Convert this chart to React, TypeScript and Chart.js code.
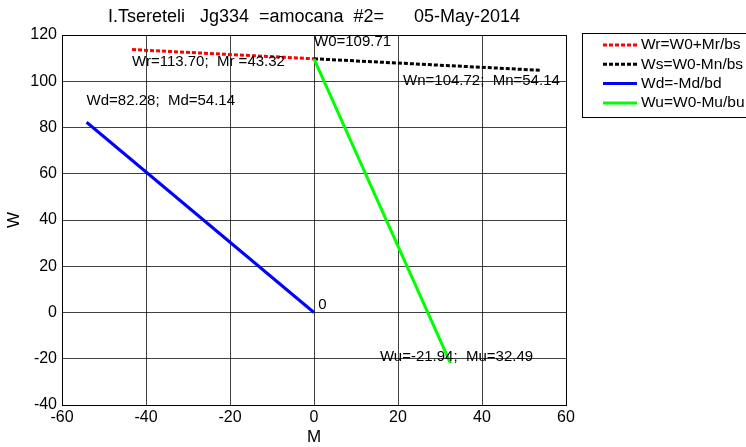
import React, { useEffect, useRef } from "react";
import { Chart, registerables } from "chart.js";

Chart.register(...registerables);

const TITLE = "I.Tsereteli   Jg334  =amocana  #2=      05-May-2014";
const X_LABEL = "M";
const Y_LABEL = "W";

const W0 = 109.71;
const wrM = [-43.32, 0];
const wrW = [113.7, W0];
const wsM = [0, 54.14];
const wsW = [W0, 104.72];
const wdM = [-54.14, 0];
const wdW = [82.28, 0];
const wuM = [0, 32.49];
const wuW = [W0, -21.94];

const seriesNames = ["Wr=W0+Mr/bs", "Ws=W0-Mn/bs", "Wd=-Md/bd", "Wu=W0-Mu/bu"];
const seriesColors = ["#ff0000", "#000000", "#0000ff", "#00ff00"];
const seriesDashed = [true, true, false, false];

const noteTexts = ["W0=109.71", "Wr=113.70;  Mr =43.32", "Wn=104.72;  Mn=54.14", "Wd=82.28;  Md=54.14", "0", "Wu=-21.94;  Mu=32.49"];
const noteM = [0, -43.32, 21.2, -54.14, 1.0, 15.7];
const noteW = [117, 108.3, 100, 91.5, 3.5, -19.2];

const FONT = "'Liberation Sans', Arial, sans-serif";

function toPts(xs: number[], ys: number[]) {
  return xs.map((x, i) => ({ x, y: ys[i] }));
}

const overlay = {
  id: "overlay",
  afterDraw(chart: any) {
    const ctx = chart.ctx;
    const { left, right, top, bottom } = chart.chartArea;
    const xs = chart.scales.x;
    const ys = chart.scales.y;
    ctx.save();
    // frame
    ctx.strokeStyle = "#000";
    ctx.lineWidth = 1;
    ctx.strokeRect(Math.round(left) + 0.5, Math.round(top) + 0.5, Math.round(right - left), Math.round(bottom - top));
    // title
    ctx.fillStyle = "#000";
    ctx.font = `18px ${FONT}`;
    ctx.textAlign = "center";
    ctx.textBaseline = "middle";
    ctx.fillText(TITLE, (left + right) / 2, 17);
    // axis titles
    ctx.font = `17px ${FONT}`;
    ctx.fillText(X_LABEL, (left + right) / 2, 437);
    ctx.save();
    ctx.translate(14, (top + bottom) / 2);
    ctx.rotate(-Math.PI / 2);
    ctx.fillText(Y_LABEL, 0, 0);
    ctx.restore();
    // notes
    ctx.textAlign = "left";
    ctx.font = `15px ${FONT}`;
    noteTexts.forEach((t, i) => {
      ctx.fillText(t, xs.getPixelForValue(noteM[i]), ys.getPixelForValue(noteW[i]));
    });
    // legend
    const lx = 582.5, ly = 33.5, lw = 200, lh = 84;
    ctx.fillStyle = "#fff";
    ctx.fillRect(lx, ly, lw, lh);
    ctx.strokeStyle = "#000";
    ctx.lineWidth = 1;
    ctx.strokeRect(lx, ly, lw, lh);
    ctx.font = `15.5px ${FONT}`;
    seriesNames.forEach((n, i) => {
      const y = 45 + i * 19.3;
      ctx.strokeStyle = seriesColors[i];
      ctx.lineWidth = 3;
      ctx.setLineDash(seriesDashed[i] ? [4, 2] : []);
      ctx.beginPath();
      ctx.moveTo(603, y);
      ctx.lineTo(637, y);
      ctx.stroke();
      ctx.setLineDash([]);
      ctx.fillStyle = "#000";
      ctx.fillText(n, 641, y);
    });
    ctx.restore();
  },
};

export default function App() {
  const ref = useRef<HTMLCanvasElement>(null);
  useEffect(() => {
    document.body.style.margin = "0";
    const xsData = [wrM, wsM, wdM, wuM];
    const ysData = [wrW, wsW, wdW, wuW];
    const chart = new Chart(ref.current!, {
      type: "scatter",
      data: {
        datasets: seriesNames.map((n, i) => ({
          label: n,
          data: toPts(xsData[i], ysData[i]),
          showLine: true,
          borderColor: seriesColors[i],
          backgroundColor: seriesColors[i],
          borderWidth: 3,
          borderDash: seriesDashed[i] ? [4, 2] : [],
          pointRadius: 0,
          order: 4 - i,
        })),
      },
      options: {
        animation: false,
        responsive: false,
        events: [],
        layout: { padding: { left: 0, right: 180, top: 35, bottom: 0 } },
        plugins: { legend: { display: false }, title: { display: false }, tooltip: { enabled: false } },
        scales: {
          x: {
            type: "linear",
            min: -60,
            max: 60,
            afterFit: (s: any) => { s.height = 42; },
            ticks: { stepSize: 20, color: "#000", font: { family: FONT, size: 16 }, padding: 3, maxRotation: 0 },
            grid: { color: "rgba(0,0,0,0.75)", drawTicks: false },
            border: { color: "#000" },
          },
          y: {
            type: "linear",
            min: -40,
            max: 120,
            afterFit: (s: any) => { s.width = 62; },
            ticks: { stepSize: 20, color: "#000", font: { family: FONT, size: 16 }, padding: 5 },
            grid: { color: "rgba(0,0,0,0.75)", drawTicks: false },
            border: { color: "#000" },
          },
        },
      },
      plugins: [overlay],
    });
    return () => chart.destroy();
  }, []);
  return <canvas ref={ref} width={746} height={447} style={{ display: "block" }} />;
}
